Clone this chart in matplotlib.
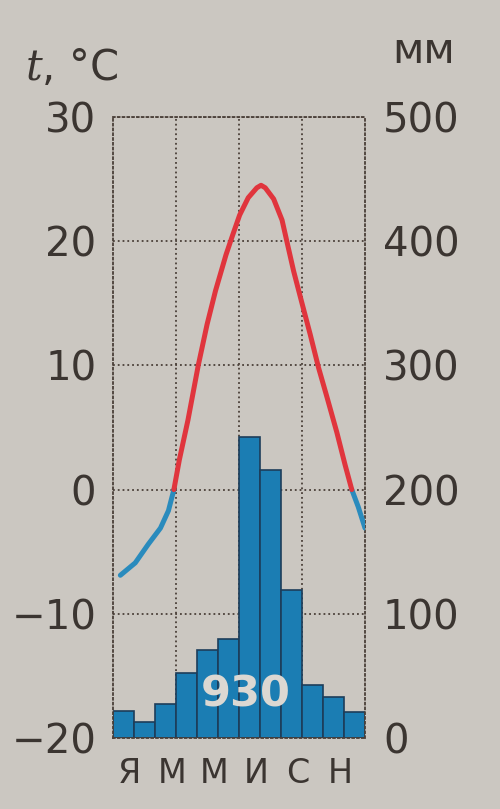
import numpy as np
import matplotlib
matplotlib.use("Agg")
import matplotlib.pyplot as plt

# monthly precipitation, mm
months = ["Я", "Ф", "М", "А", "М", "И", "И", "А", "С", "О", "Н", "Д"]
precip = [22, 13, 27, 52, 71, 80, 242, 216, 119, 43, 33, 21]
total = 930

# temperature curve, points (x in months from the left edge)
t_pos = [0.35, 1.06, 1.68, 2.26, 2.64, 2.9, 3.16, 3.57, 4.06, 4.48, 4.88, 5.38, 5.7,
         6.03, 6.44, 6.85, 7.05, 7.25, 7.65, 8.05, 8.29, 8.6, 9.0, 9.39, 9.79,
         10.18, 10.66, 11.05, 11.37, 11.68, 12.0]
t_val = [-6.9, -5.9, -4.4, -3.1, -1.7, 0.0, 2.4, 5.6, 10.0, 13.3, 16.0, 18.9, 20.5,
         22.1, 23.5, 24.3, 24.5, 24.3, 23.4, 21.7, 19.9, 17.6, 15.0, 12.5, 9.8,
         7.5, 4.6, 2.0, 0.0, -1.4, -3.1]

BG = "#cbc7c1"
INK = "#3b3531"
BAR = "#1b7db3"
RED = "#e0353d"
BLUE = "#2a8bbd"

fig = plt.figure(figsize=(5, 8.09), dpi=100, facecolor=BG)
ax = fig.add_axes([0.226, 0.0878, 0.504, 0.7676])
ax2 = ax.twinx()
ax.set_zorder(ax2.get_zorder() + 1)
ax.patch.set_visible(False)

# precipitation bars + grid on the mm axis
x = np.arange(12) + 0.5
ax2.bar(x, precip, width=1.0, color=BAR, edgecolor="#1d3d5a", linewidth=1.2, zorder=2)
ax2.set_ylim(0, 500)
ax2.set_yticks(range(0, 501, 100))
ax2.set_axisbelow(True)
ax2.grid(axis="y", linestyle=":", color="#4a3f38", linewidth=1.3, zorder=0)
for m in range(3, 12, 3):
    ax2.axvline(m, linestyle=":", color="#4a3f38", linewidth=1.3, zorder=0)
for s in ax2.spines.values():
    s.set_linestyle(":")
    s.set_color("#4a3f38")
    s.set_linewidth(1.3)
ax2.tick_params(axis="y", length=0, pad=13, labelsize=29, labelcolor=INK)

# temperature line: blue below zero, red above
tp = np.array(t_pos)
tv = np.array(t_val)
ax.plot(tp, np.ma.masked_where(tv > 0, tv), color=BLUE, linewidth=3.6,
        solid_capstyle="round", solid_joinstyle="round")
ax.plot(tp, np.ma.masked_where(tv < 0, tv), color=RED, linewidth=3.6,
        solid_capstyle="round", solid_joinstyle="round")
ax.set_xlim(0, 12)
ax.set_ylim(-20, 30)
ax.set_yticks(range(-20, 31, 10))
for s in ax.spines.values():
    s.set_visible(False)
ax.tick_params(axis="y", length=0, pad=12, labelsize=29, labelcolor=INK)

# every other month letter under the bars
ax.set_xticks(x[::2] + 0.3)
ax.set_xticklabels(months[::2])
ax.tick_params(axis="x", length=0, pad=14, labelsize=24, labelcolor=INK)

ax2.text(6.3, 35, str(total), ha="center", va="center", fontsize=31,
         fontweight="bold", color="#dcd8d2", zorder=3)

plt.rcParams["mathtext.fontset"] = "dejavuserif"
fig.text(0.05, 0.901, "$t$, °C", fontsize=30, color=INK, ha="left", va="baseline")
fig.text(0.784, 0.922, "мм", fontsize=30, color=INK, ha="left", va="baseline")

fig.savefig("out.png", dpi=100, facecolor=BG)
